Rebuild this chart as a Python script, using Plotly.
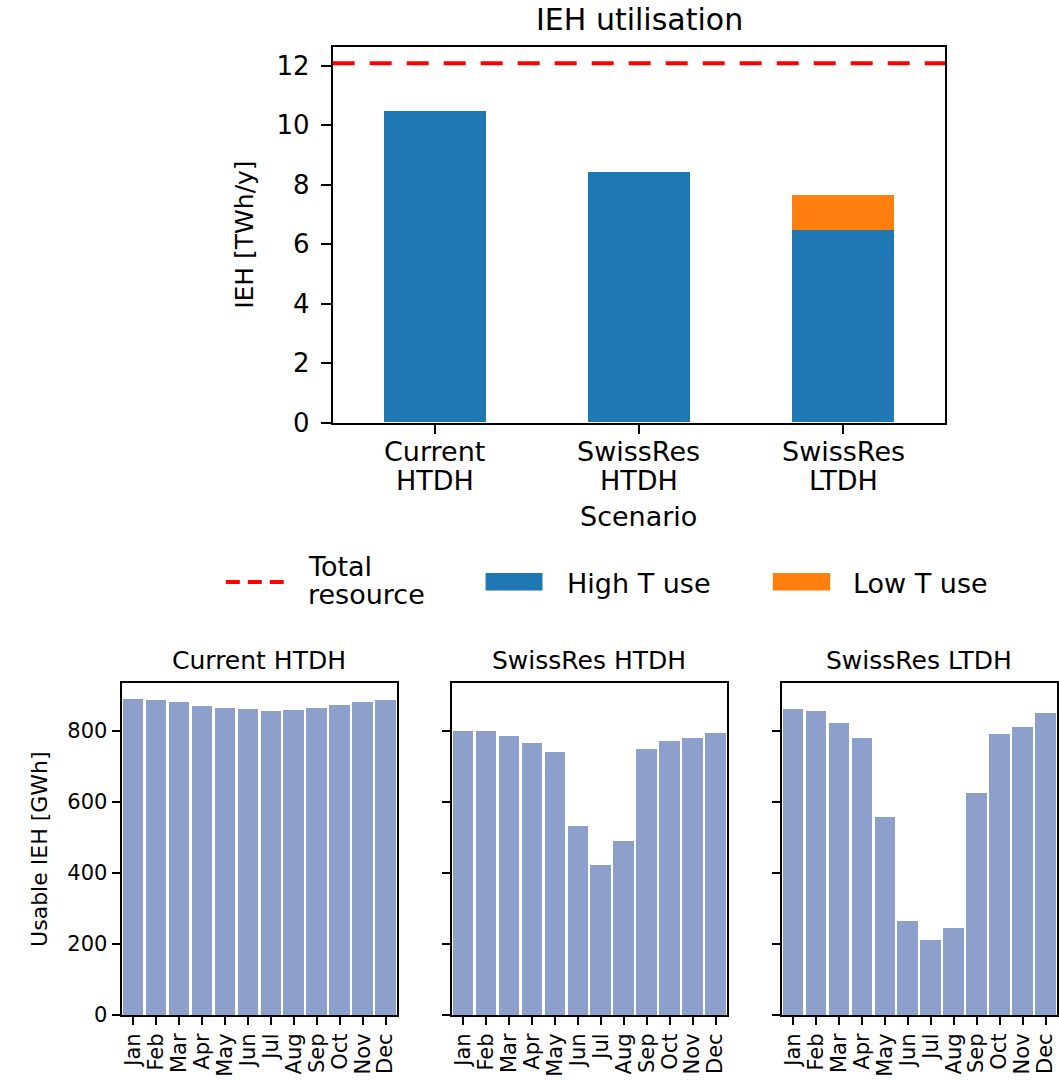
import plotly.graph_objects as go

# ---------------- data ----------------
scenarios = ["Current HTDH", "SwissRes HTDH", "SwissRes LTDH"]
high_t_use = [10.47, 8.42, 6.49]
low_t_use = [0.0, 0.0, 1.16]
total_resource = 12.08

months = ["Jan", "Feb", "Mar", "Apr", "May", "Jun", "Jul", "Aug", "Sep", "Oct", "Nov", "Dec"]
current_htdh = [888, 885, 879, 870, 863, 860, 856, 858, 864, 872, 879, 885]
swissres_htdh = [800, 798, 785, 765, 741, 531, 421, 490, 748, 772, 780, 793]
swissres_ltdh = [860, 855, 820, 778, 556, 263, 210, 244, 625, 790, 811, 849]
panel_titles = ["Current HTDH", "SwissRes HTDH", "SwissRes LTDH"]
panel_values = [current_htdh, swissres_htdh, swissres_ltdh]

# ---------------- style ----------------
W, H = 1059, 1081
H_EFF = 1066  # effective rendered height used for placing paper-fraction positions
FONT = "DejaVu Sans"
BLUE = "#1f77b4"
ORANGE = "#ff7f0e"
RED = "#ff0000"
MONTH_COLOR = "#8da0cb"


def px_x(p):
    return p / W


def px_y(p):
    return 1 - p / H_EFF


fig = go.Figure()

fig.add_trace(go.Bar(x=scenarios, y=high_t_use, name="High T use", marker_color=BLUE,
                     marker_line_width=0, width=0.5, xaxis="x", yaxis="y", showlegend=False))
fig.add_trace(go.Bar(x=scenarios, y=low_t_use, name="Low T use", marker_color=ORANGE,
                     marker_line_width=0, width=0.5, xaxis="x", yaxis="y", showlegend=False))
fig.add_shape(type="line", xref="x domain", yref="y", x0=0, x1=1, y0=total_resource, y1=total_resource,
              line=dict(color=RED, width=4, dash="22px,15px"))

axis_common = dict(showline=True, linecolor="black", linewidth=2, mirror=True, ticks="outside",
                   tickcolor="black", tickwidth=2, showgrid=False, zeroline=False)

layout = dict(
    width=W, height=H, margin=dict(l=0, r=0, t=0, b=0),
    paper_bgcolor="white", plot_bgcolor="white",
    font=dict(family=FONT, color="black"),
    barmode="stack", showlegend=False,
    xaxis=dict(domain=[px_x(332), px_x(945)], anchor="y", range=[-0.5, 2.5], ticklen=9,
               showticklabels=False, categoryorder="array", categoryarray=scenarios, **axis_common),
    yaxis=dict(domain=[px_y(422.5), px_y(46.7)], anchor="x", range=[0, 12.64], tickvals=[0, 2, 4, 6, 8, 10, 12],
               ticklen=10, ticklabelstandoff=6, tickfont=dict(size=26),
               title=dict(text="IEH [TWh/y]", font=dict(size=25), standoff=16),
               **axis_common),
)

panel_x = [(120.7, 396.5), (451.0, 726.8), (781.3, 1057.0)]
annotations = [
    dict(text="IEH utilisation", x=px_x(639.5), y=px_y(20), xref="paper", yref="paper",
         showarrow=False, font=dict(size=30), xanchor="center", yanchor="middle"),
    dict(text="Scenario", x=px_x(638.5), y=px_y(516), xref="paper", yref="paper",
         showarrow=False, font=dict(size=27), xanchor="center", yanchor="middle"),
]

# category tick labels of the top chart, two lines each (tight line spacing as in the reference)
for s in scenarios:
    first, second = s.split(" ", 1)
    annotations.append(dict(text=first, x=s, xref="x", y=px_y(452), yref="paper", showarrow=False,
                            font=dict(size=27), xanchor="center", yanchor="middle"))
    annotations.append(dict(text=second, x=s, xref="x", y=px_y(481), yref="paper", showarrow=False,
                            font=dict(size=27), xanchor="center", yanchor="middle"))

for i, (vals, title, (x0, x1)) in enumerate(zip(panel_values, panel_titles, panel_x)):
    n = i + 2
    xa, ya = f"x{n}", f"y{n}"
    fig.add_trace(go.Bar(x=months, y=vals, marker_color=MONTH_COLOR, marker_line_width=0, width=0.9,
                         xaxis=xa, yaxis=ya, showlegend=False, name=title))
    layout[f"xaxis{n}"] = dict(domain=[px_x(x0), px_x(x1)], anchor=ya, range=[-0.5, 11.5],
                               tickmode="array", tickvals=months, ticktext=months,
                               tickangle=-90, ticklen=8, tickfont=dict(size=21), **axis_common)
    ydict = dict(domain=[px_y(1015), px_y(683.3)], anchor=xa, range=[0, 933],
                 tickvals=[0, 200, 400, 600, 800], ticklen=8, tickfont=dict(size=21),
                 showticklabels=(i == 0), **axis_common)
    if i == 0:
        ydict["title"] = dict(text="Usable IEH [GWh]", font=dict(size=22), standoff=14)
    layout[f"yaxis{n}"] = ydict
    annotations.append(dict(text=title, x=px_x((x0 + x1) / 2), y=px_y(660), xref="paper", yref="paper",
                            showarrow=False, font=dict(size=25), xanchor="center", yanchor="middle"))

# ---------------- legend (drawn below the top chart) ----------------
shapes = [
    dict(type="line", xref="paper", yref="paper", x0=px_x(225), x1=px_x(283), y0=px_y(582), y1=px_y(582),
         line=dict(color=RED, width=4, dash="14px,8px")),
    dict(type="rect", xref="paper", yref="paper", x0=px_x(485), x1=px_x(542), y0=px_y(590.5), y1=px_y(573),
         fillcolor=BLUE, line=dict(width=0)),
    dict(type="rect", xref="paper", yref="paper", x0=px_x(772.5), x1=px_x(830), y0=px_y(590.5), y1=px_y(573),
         fillcolor=ORANGE, line=dict(width=0)),
]
LEG = 27
annotations += [
    dict(text="Total", x=px_x(305), y=px_y(566), xref="paper", yref="paper", showarrow=False,
         font=dict(size=LEG), xanchor="left", yanchor="middle"),
    dict(text="resource", x=px_x(305), y=px_y(594), xref="paper", yref="paper", showarrow=False,
         font=dict(size=LEG), xanchor="left", yanchor="middle"),
    dict(text="High T use", x=px_x(565), y=px_y(583), xref="paper", yref="paper", showarrow=False,
         font=dict(size=LEG), xanchor="left", yanchor="middle"),
    dict(text="Low T use", x=px_x(851), y=px_y(583), xref="paper", yref="paper", showarrow=False,
         font=dict(size=LEG), xanchor="left", yanchor="middle"),
]

layout["annotations"] = annotations
fig.update_layout(**layout)
for s in shapes:
    fig.add_shape(**s)

fig.write_html("out.html")
